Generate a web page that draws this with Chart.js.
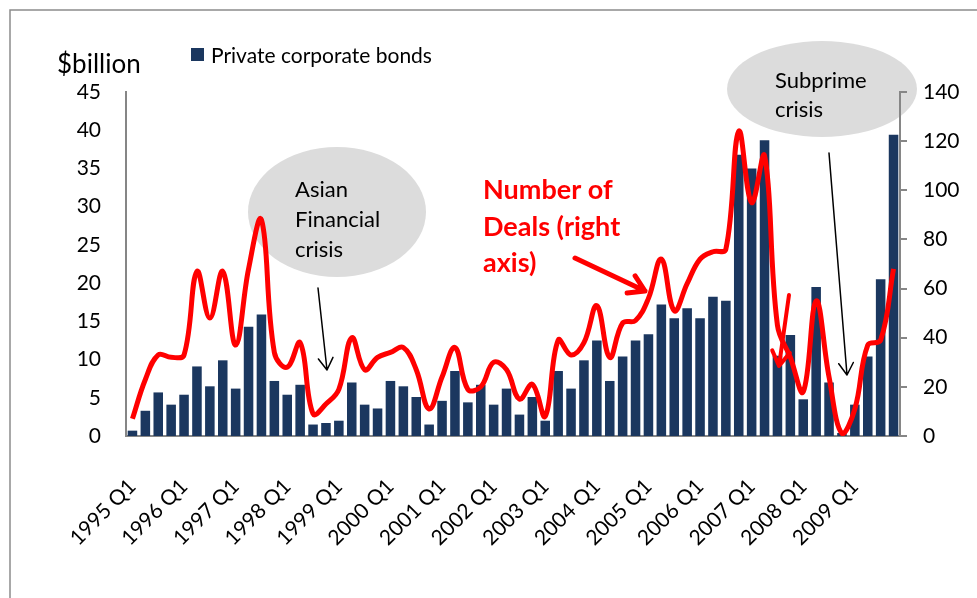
<!DOCTYPE html>
<html>
<head>
<meta charset="utf-8">
<title>Private corporate bonds and number of deals</title>
<script src="https://cdn.jsdelivr.net/npm/chart.js@4/dist/chart.umd.min.js"></script>
<style>
  html, body { margin: 0; padding: 0; background: #fff; }
  #wrap { width: 977px; height: 598px; position: relative; }
</style>
</head>
<body>
<div id="wrap"><canvas id="bondsChart" width="977" height="598"></canvas></div>
<script>
// Quarterly issuance, 1995 Q1 - 2009 Q4
const years = [1995, 1996, 1997, 1998, 1999, 2000, 2001, 2002, 2003, 2004, 2005, 2006, 2007, 2008, 2009];
const quarterNames = ['Q1', 'Q2', 'Q3', 'Q4'];

// $billion, left axis
const bondValues = [
  0.7, 3.3, 5.7, 4.1, 5.4, 9.1, 6.5, 9.9, 6.2, 14.3,
  15.9, 7.2, 5.4, 6.7, 1.5, 1.7, 2.0, 7.0, 4.1, 3.6,
  7.2, 6.5, 5.1, 1.5, 4.6, 8.5, 4.4, 6.7, 4.1, 6.2,
  2.8, 5.1, 2.0, 8.5, 6.2, 9.9, 12.5, 7.2, 10.4, 12.5,
  13.3, 17.2, 15.4, 16.7, 15.4, 18.2, 17.7, 36.8, 35.0, 38.7,
  10.5, 13.2, 4.8, 19.5, 7.0, 0.4, 4.1, 10.4, 20.5, 39.4
];

// number of deals, right axis
const dealCounts = [
  7, 23, 33, 32, 33, 67, 48, 67, 37, 68,
  88, 34, 28, 38, 9, 13, 19, 40, 27, 32,
  34, 36, 27, 11, 24, 36, 19, 20, 30, 27,
  15, 21, 8, 39, 33, 38, 53, 32, 46, 47,
  56, 72, 51, 62, 72, 75, 76, 124, 95, 114,
  45, 32, 18, 55, 24, 1, 11, 37, 39, 68
];

const leftTicks = [0, 5, 10, 15, 20, 25, 30, 35, 40, 45];
const rightTicks = [0, 20, 40, 60, 80, 100, 120, 140];

const quarters = [];
years.forEach(y => quarterNames.forEach(q => quarters.push(y + ' ' + q)));

const NAVY = '#1b375f';
const RED = '#ff0000';
const AXIS_GREY = '#868686';
const FONT = 'Lato, "Liberation Sans", sans-serif';

function arrow(ctx, x1, y1, x2, y2, color, width, head) {
  const a = Math.atan2(y2 - y1, x2 - x1);
  ctx.save();
  ctx.strokeStyle = color;
  ctx.lineWidth = width;
  ctx.lineCap = 'round';
  ctx.lineJoin = 'round';
  ctx.beginPath();
  ctx.moveTo(x1, y1);
  ctx.lineTo(x2, y2);
  ctx.moveTo(x2 - head * Math.cos(a - 0.55), y2 - head * Math.sin(a - 0.55));
  ctx.lineTo(x2, y2);
  ctx.lineTo(x2 - head * Math.cos(a + 0.55), y2 - head * Math.sin(a + 0.55));
  ctx.stroke();
  ctx.restore();
}

// frame, bubbles and legend go under the axes
const backdrop = {
  id: 'backdrop',
  beforeDraw(chart) {
    const ctx = chart.ctx;
    ctx.save();
    ctx.fillStyle = '#fff';
    ctx.fillRect(0, 0, chart.width, chart.height);

    ctx.strokeStyle = '#8c8c8c';
    ctx.lineWidth = 1.5;
    ctx.beginPath();
    ctx.moveTo(10, chart.height);
    ctx.lineTo(10, 10);
    ctx.lineTo(chart.width, 10);
    ctx.stroke();

    ctx.fillStyle = '#dcdcdc';
    ctx.beginPath();
    ctx.ellipse(337, 212, 89, 65, 0, 0, Math.PI * 2);
    ctx.fill();
    ctx.beginPath();
    ctx.ellipse(822, 89, 95, 48, 0, 0, Math.PI * 2);
    ctx.fill();

    ctx.fillStyle = '#000';
    ctx.textBaseline = 'middle';
    ctx.textAlign = 'left';
    ctx.font = '26px ' + FONT;
    ctx.fillText('$billion', 57, 65);

    ctx.fillStyle = NAVY;
    ctx.fillRect(191, 48, 13, 13);
    ctx.fillStyle = '#000';
    ctx.font = '21px ' + FONT;
    ctx.fillText('Private corporate bonds', 211, 56);
    ctx.restore();
  },
  afterDatasetsDraw(chart) {
    const ctx = chart.ctx;
    ctx.save();
    ctx.fillStyle = '#000';
    ctx.textBaseline = 'middle';
    ctx.textAlign = 'left';
    ctx.font = '22px ' + FONT;
    ctx.fillText('Asian', 295, 190);
    ctx.fillText('Financial', 295, 220);
    ctx.fillText('crisis', 295, 250);
    ctx.fillText('Subprime', 775, 81);
    ctx.fillText('crisis', 775, 110);

    ctx.fillStyle = RED;
    ctx.font = 'bold 27px ' + FONT;
    ctx.fillText('Number of', 483, 190);
    ctx.fillText('Deals (right', 483, 227);
    ctx.fillText('axis)', 483, 263);

    arrow(ctx, 318, 288, 327, 370, '#000', 1.5, 14);
    arrow(ctx, 829, 153, 847, 375, '#000', 1.5, 14);
    arrow(ctx, 575, 258, 645, 291, RED, 5, 18);
    arrow(ctx, 789, 295, 779, 366, RED, 4, 17);
    ctx.restore();
  }
};

new Chart(document.getElementById('bondsChart'), {
  data: {
    labels: quarters,
    datasets: [
      {
        type: 'line',
        label: 'Number of deals',
        data: dealCounts,
        yAxisID: 'y1',
        borderColor: RED,
        borderWidth: 5,
        pointRadius: 0,
        tension: 0.4,
        fill: false,
        order: 0
      },
      {
        type: 'bar',
        label: 'Private corporate bonds',
        data: bondValues,
        yAxisID: 'y',
        backgroundColor: NAVY,
        barPercentage: 0.74,
        categoryPercentage: 1.0,
        order: 1
      }
    ]
  },
  options: {
    responsive: false,
    animation: false,
    layout: { padding: { top: 92, left: 0, right: 0, bottom: 0 } },
    plugins: {
      legend: { display: false },
      tooltip: { enabled: false }
    },
    scales: {
      x: {
        grid: { display: false },
        border: { color: AXIS_GREY, width: 2 },
        ticks: {
          autoSkip: false,
          minRotation: 45,
          maxRotation: 45,
          padding: 30,
          color: '#000',
          font: { family: FONT, size: 21 },
          callback: (v, i) => (i % 4 === 0 ? quarters[i] : '')
        },
        afterFit(axis) { axis.height = 162; }
      },
      y: {
        position: 'left',
        min: 0,
        max: 45,
        grid: { display: false, drawTicks: false },
        border: { color: AXIS_GREY, width: 2 },
        afterBuildTicks(axis) { axis.ticks = leftTicks.map(v => ({ value: v })); },
        ticks: {
          padding: 25,
          color: '#000',
          font: { family: FONT, size: 21 }
        },
        afterFit(axis) { axis.width = 126; }
      },
      y1: {
        position: 'right',
        min: 0,
        max: 140,
        grid: { drawOnChartArea: false, drawTicks: true, tickLength: 7, color: AXIS_GREY, lineWidth: 2 },
        border: { color: AXIS_GREY, width: 2 },
        afterBuildTicks(axis) { axis.ticks = rightTicks.map(v => ({ value: v })); },
        ticks: {
          padding: 16,
          color: '#000',
          font: { family: FONT, size: 21 }
        },
        afterFit(axis) { axis.width = 77; }
      }
    }
  },
  plugins: [backdrop]
});
</script>
</body>
</html>
